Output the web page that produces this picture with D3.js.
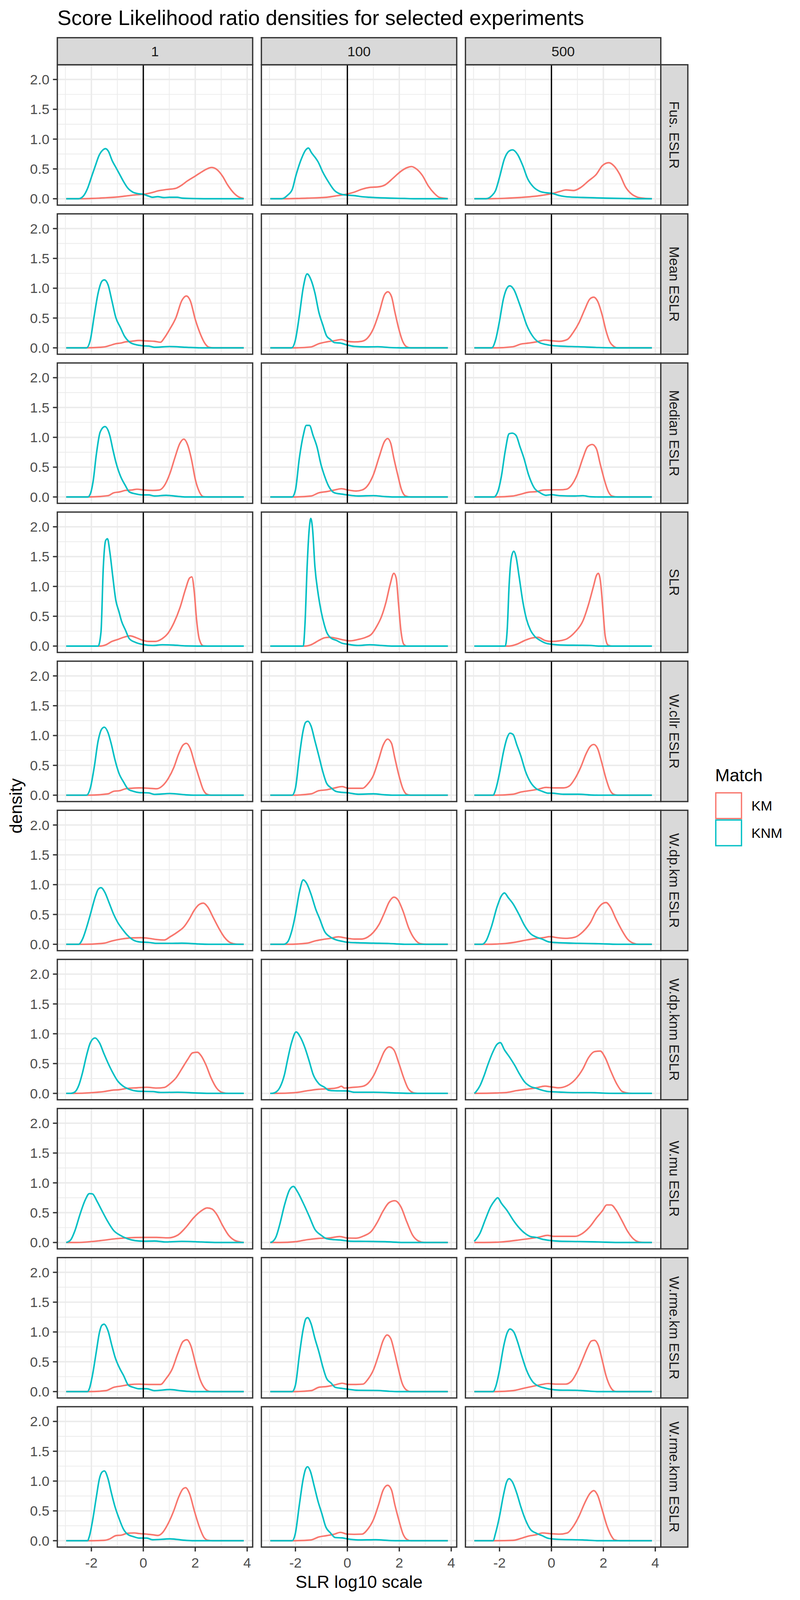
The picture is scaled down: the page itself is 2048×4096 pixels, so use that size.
<!DOCTYPE html>
<html><head><meta charset="utf-8">
<script src="https://cdn.jsdelivr.net/npm/d3@7"></script>
<style>body{margin:0;background:#fff}svg{display:block}</style>
</head><body>
<svg id="chart" width="2048" height="4096"></svg>
<script>
const colLabels = ["1", "100", "500"];
const rowLabels = ["Fus. ESLR", "Mean ESLR", "Median ESLR", "SLR", "W.cllr ESLR", "W.dp.km ESLR", "W.dp.knm ESLR", "W.mu ESLR", "W.rme.km ESLR", "W.rme.knm ESLR"];
const xTicks = [-2, 0, 2, 4];
const xMinorTicks = [-3, -1, 1, 3];
const yTicks = [0, 0.5, 1, 1.5, 2];
const yMinorTicks = [0.25, 0.75, 1.25, 1.75];
const seriesNames = ["KM", "KNM"];
const seriesColors = ["#F8766D", "#00BFC4"];

// density curves [x, density] for columns 1, 100, 500
const fusKM = [
 [[-2.97,0],[-2.45,0],[-2.0,0.005],[-1.5,0.015],[-1.0,0.03],[-0.6,0.05],[-0.3,0.065],[0,0.075],[0.3,0.1],[0.6,0.135],[0.9,0.155],[1.25,0.175],[1.45,0.22],[1.7,0.3],[2.0,0.38],[2.25,0.45],[2.45,0.5],[2.63,0.525],[2.8,0.5],[3.05,0.38],[3.25,0.23],[3.5,0.09],[3.7,0.025],[3.87,0.005]],
 [[-2.97,0],[-2.45,0],[-1.55,0.01],[-0.8,0.025],[-0.4,0.05],[0,0.08],[0.26,0.11],[0.56,0.16],[0.86,0.19],[1.2,0.2],[1.46,0.235],[1.76,0.345],[2.06,0.46],[2.29,0.52],[2.47,0.54],[2.66,0.5],[2.89,0.39],[3.11,0.22],[3.34,0.094],[3.56,0.02],[3.87,0.003]],
 [[-2.97,0],[-2.5,0],[-1.8,0.008],[-1.18,0.022],[-0.43,0.053],[0,0.085],[0.31,0.12],[0.56,0.148],[0.86,0.138],[1.13,0.19],[1.43,0.3],[1.73,0.41],[1.96,0.555],[2.21,0.605],[2.4,0.555],[2.63,0.41],[2.85,0.2],[3.07,0.085],[3.3,0.028],[3.52,0.01],[3.87,0]]
];
const fusKNM = [
 [[-2.97,0],[-2.5,0],[-2.3,0.05],[-2.15,0.17],[-2.0,0.36],[-1.85,0.55],[-1.7,0.73],[-1.55,0.82],[-1.46,0.84],[-1.35,0.8],[-1.2,0.64],[-1.05,0.52],[-0.9,0.4],[-0.75,0.28],[-0.6,0.18],[-0.4,0.11],[-0.2,0.085],[0,0.075],[0.2,0.045],[0.35,0.025],[0.55,0.035],[0.8,0.02],[1.0,0.025],[1.3,0.025],[1.5,0.01],[2.0,0.003],[2.5,0],[3.87,0]],
 [[-2.97,0],[-2.53,0],[-2.3,0.06],[-2.12,0.16],[-2.0,0.36],[-1.77,0.67],[-1.6,0.82],[-1.5,0.85],[-1.38,0.77],[-1.22,0.68],[-1.13,0.62],[-0.95,0.45],[-0.74,0.29],[-0.5,0.14],[-0.27,0.08],[0,0.06],[0.26,0.053],[0.56,0.034],[0.86,0.025],[1.46,0.013],[2.2,0.005],[2.6,0],[3.87,0]],
 [[-2.97,0],[-2.52,0],[-2.3,0.05],[-2.15,0.14],[-2.0,0.36],[-1.81,0.67],[-1.63,0.8],[-1.5,0.82],[-1.3,0.74],[-1.1,0.55],[-0.91,0.33],[-0.7,0.2],[-0.45,0.125],[-0.2,0.1],[0,0.092],[0.31,0.053],[0.61,0.032],[1.21,0.022],[2.1,0.01],[3.0,0.003],[3.4,0],[3.87,0]]
];
const meanKM = [
 [[-2.97,0],[-2.2,0],[-1.51,0.016],[-1.29,0.04],[-1.06,0.07],[-0.88,0.08],[-0.69,0.1],[-0.46,0.11],[-0.16,0.125],[0.13,0.116],[0.43,0.11],[0.66,0.094],[0.81,0.166],[1.03,0.32],[1.26,0.51],[1.48,0.79],[1.66,0.87],[1.81,0.79],[2.0,0.48],[2.2,0.23],[2.38,0.07],[2.53,0.01],[2.68,0],[3.87,0]],
 [[-2.97,0],[-2.1,0],[-1.4,0.016],[-1.1,0.07],[-0.8,0.1],[-0.5,0.12],[-0.23,0.14],[0,0.11],[0.26,0.1],[0.56,0.11],[0.78,0.166],[1.0,0.32],[1.23,0.6],[1.43,0.89],[1.56,0.94],[1.7,0.86],[1.83,0.6],[1.98,0.32],[2.14,0.1],[2.29,0.016],[2.44,0],[3.87,0]],
 [[-2.97,0],[-2.2,0],[-1.48,0.019],[-1.18,0.063],[-0.88,0.08],[-0.58,0.1],[-0.25,0.13],[0,0.12],[0.31,0.11],[0.61,0.14],[0.84,0.26],[1.06,0.42],[1.28,0.64],[1.48,0.82],[1.63,0.85],[1.78,0.78],[1.96,0.54],[2.1,0.29],[2.25,0.1],[2.4,0.025],[2.55,0],[3.87,0]]
];
const meanKNM = [
 [[-2.97,0],[-2.19,0],[-2.04,0.135],[-1.89,0.54],[-1.74,0.92],[-1.59,1.12],[-1.5,1.14],[-1.36,1.06],[-1.21,0.79],[-1.06,0.51],[-0.88,0.34],[-0.73,0.2],[-0.54,0.1],[-0.31,0.056],[0,0.034],[0.21,0.03],[0.43,0.01],[1.03,0.022],[1.63,0.01],[2.23,0],[3.87,0]],
 [[-2.97,0],[-2.15,0],[-2.0,0.135],[-1.85,0.54],[-1.7,1.01],[-1.55,1.24],[-1.4,1.14],[-1.25,0.92],[-1.1,0.6],[-0.95,0.39],[-0.8,0.2],[-0.65,0.14],[-0.5,0.088],[-0.27,0.08],[0,0.047],[0.26,0.025],[0.71,0.016],[1.16,0.019],[1.61,0.006],[2.2,0],[3.87,0]],
 [[-2.97,0],[-2.3,0],[-2.15,0.135],[-2.0,0.45],[-1.85,0.82],[-1.7,1.01],[-1.6,1.04],[-1.45,0.98],[-1.25,0.76],[-1.1,0.57],[-0.96,0.39],[-0.73,0.2],[-0.51,0.1],[-0.21,0.056],[0,0.04],[0.31,0.03],[1.06,0.019],[1.81,0.006],[2.55,0],[3.87,0]]
];
const medianKM = [
 [[-2.97,0],[-2.1,0],[-1.36,0.022],[-1.14,0.07],[-0.91,0.085],[-0.69,0.11],[-0.46,0.116],[-0.24,0.13],[0.06,0.116],[0.36,0.11],[0.61,0.116],[0.81,0.19],[1.03,0.4],[1.21,0.65],[1.41,0.9],[1.56,0.97],[1.71,0.87],[1.86,0.62],[2.0,0.3],[2.16,0.085],[2.31,0.006],[2.5,0],[3.87,0]],
 [[-2.97,0],[-2.1,0],[-1.4,0.016],[-1.1,0.07],[-0.8,0.09],[-0.5,0.116],[-0.23,0.138],[0.03,0.116],[0.33,0.1],[0.56,0.116],[0.78,0.19],[1.0,0.37],[1.23,0.68],[1.43,0.93],[1.55,0.98],[1.67,0.9],[1.79,0.65],[1.94,0.37],[2.09,0.116],[2.24,0.016],[2.44,0],[3.87,0]],
 [[-2.97,0],[-2.2,0],[-1.48,0.016],[-1.18,0.047],[-0.88,0.08],[-0.58,0.09],[-0.31,0.116],[0,0.12],[0.31,0.12],[0.58,0.13],[0.76,0.19],[0.99,0.37],[1.21,0.65],[1.39,0.84],[1.57,0.88],[1.73,0.81],[1.88,0.55],[2.03,0.3],[2.18,0.1],[2.33,0.016],[2.55,0],[3.87,0]]
];
const medianKNM = [
 [[-2.97,0],[-2.14,0],[-2.04,0.053],[-1.93,0.27],[-1.81,0.71],[-1.66,1.09],[-1.48,1.18],[-1.29,1.03],[-1.18,0.81],[-1.06,0.59],[-0.88,0.35],[-0.69,0.19],[-0.54,0.085],[-0.31,0.053],[0,0.034],[0.21,0.034],[0.43,0.016],[0.88,0.028],[1.33,0.01],[1.63,0],[3.87,0]],
 [[-2.97,0],[-2.13,0],[-2.0,0.116],[-1.85,0.65],[-1.7,1.03],[-1.58,1.2],[-1.46,1.2],[-1.32,1.03],[-1.17,0.84],[-1.02,0.55],[-0.87,0.34],[-0.72,0.18],[-0.5,0.07],[-0.2,0.047],[0,0.034],[0.41,0.016],[1.0,0.022],[1.46,0.006],[1.76,0],[3.87,0]],
 [[-2.97,0],[-2.22,0],[-2.07,0.085],[-1.93,0.34],[-1.78,0.77],[-1.63,1.06],[-1.51,1.07],[-1.36,1.03],[-1.21,0.84],[-1.06,0.65],[-0.88,0.37],[-0.66,0.15],[-0.43,0.07],[-0.21,0.028],[0,0.038],[0.31,0.022],[0.91,0.016],[1.21,0.022],[1.51,0.003],[1.81,0],[3.87,0]]
];
const slrKM = [
 [[-2.97,0],[-1.66,0],[-1.44,0.022],[-1.21,0.078],[-0.99,0.11],[-0.76,0.147],[-0.51,0.172],[-0.3,0.145],[-0.01,0.094],[0.21,0.078],[0.46,0.078],[0.73,0.125],[0.96,0.22],[1.18,0.39],[1.41,0.64],[1.63,0.96],[1.78,1.14],[1.87,1.16],[1.96,0.92],[2.05,0.45],[2.16,0.11],[2.31,0.003],[2.46,0],[3.87,0]],
 [[-2.97,0],[-1.63,0],[-1.4,0.022],[-1.1,0.094],[-0.87,0.14],[-0.68,0.147],[-0.42,0.13],[-0.12,0.1],[0.11,0.088],[0.41,0.11],[0.71,0.147],[0.93,0.2],[1.13,0.33],[1.31,0.49],[1.49,0.74],[1.64,1.02],[1.79,1.22],[1.88,1.14],[1.97,0.71],[2.06,0.27],[2.17,0.031],[2.29,0],[3.87,0]],
 [[-2.97,0],[-1.63,0],[-1.33,0.031],[-1.03,0.094],[-0.76,0.135],[-0.51,0.147],[-0.25,0.094],[0,0.078],[0.31,0.088],[0.61,0.125],[0.91,0.235],[1.21,0.42],[1.43,0.7],[1.63,1.02],[1.73,1.18],[1.81,1.22],[1.88,1.11],[1.99,0.58],[2.07,0.17],[2.18,0.016],[2.33,0],[3.87,0]]
];
const slrKNM = [
 [[-2.97,0],[-1.74,0],[-1.63,0.235],[-1.54,1.33],[-1.45,1.77],[-1.38,1.8],[-1.29,1.58],[-1.18,1.18],[-1.06,0.77],[-0.94,0.58],[-0.84,0.42],[-0.69,0.27],[-0.54,0.125],[-0.31,0.063],[0,0.025],[0.36,0.01],[0.73,0.022],[1.18,0.016],[1.63,0.003],[2.08,0],[3.87,0]],
 [[-2.97,0],[-1.7,0],[-1.63,0.39],[-1.55,1.33],[-1.47,1.96],[-1.41,2.14],[-1.34,1.96],[-1.25,1.33],[-1.13,0.89],[-1.01,0.58],[-0.89,0.36],[-0.8,0.235],[-0.65,0.14],[-0.42,0.094],[-0.2,0.047],[0,0.031],[0.41,0.01],[0.86,0.022],[1.31,0.01],[1.76,0],[3.87,0]],
 [[-2.97,0],[-1.78,0],[-1.7,0.3],[-1.63,1.02],[-1.54,1.49],[-1.45,1.59],[-1.36,1.49],[-1.25,1.18],[-1.1,0.74],[-0.96,0.45],[-0.81,0.27],[-0.63,0.157],[-0.43,0.094],[-0.21,0.047],[0,0.031],[0.46,0.016],[1.06,0.013],[1.51,0.01],[1.81,0],[3.87,0]]
];
const cllrKM = [
 [[-2.97,0],[-2.1,0],[-1.36,0.022],[-1.14,0.066],[-0.91,0.075],[-0.69,0.107],[-0.46,0.116],[-0.16,0.122],[0.21,0.116],[0.51,0.107],[0.73,0.154],[0.96,0.28],[1.18,0.47],[1.36,0.69],[1.53,0.84],[1.66,0.87],[1.81,0.78],[1.96,0.56],[2.16,0.28],[2.31,0.09],[2.46,0.013],[2.61,0],[3.87,0]],
 [[-2.97,0],[-2.1,0],[-1.4,0.022],[-1.1,0.075],[-0.8,0.09],[-0.5,0.12],[-0.2,0.144],[0.03,0.116],[0.33,0.116],[0.59,0.116],[0.78,0.185],[1.0,0.33],[1.2,0.59],[1.38,0.84],[1.55,0.94],[1.7,0.87],[1.83,0.62],[1.98,0.34],[2.14,0.107],[2.29,0.013],[2.44,0],[3.87,0]],
 [[-2.97,0],[-2.2,0],[-1.48,0.016],[-1.18,0.053],[-0.85,0.075],[-0.51,0.1],[-0.21,0.13],[0.09,0.122],[0.46,0.122],[0.69,0.154],[0.91,0.28],[1.13,0.47],[1.33,0.69],[1.48,0.81],[1.63,0.85],[1.78,0.78],[1.93,0.56],[2.1,0.28],[2.25,0.09],[2.4,0.013],[2.55,0],[3.87,0]]
];
const cllrKNM = [
 [[-2.97,0],[-2.19,0],[-2.04,0.12],[-1.89,0.47],[-1.74,0.91],[-1.6,1.11],[-1.5,1.14],[-1.36,1.05],[-1.24,0.87],[-1.09,0.59],[-0.94,0.37],[-0.76,0.22],[-0.58,0.1],[-0.39,0.066],[-0.16,0.044],[0.21,0.038],[0.43,0.013],[1.03,0.028],[1.63,0.006],[1.93,0],[3.87,0]],
 [[-2.97,0],[-2.13,0],[-2.0,0.12],[-1.85,0.65],[-1.7,1.09],[-1.61,1.22],[-1.52,1.24],[-1.4,1.16],[-1.25,0.91],[-1.1,0.66],[-0.95,0.4],[-0.8,0.2],[-0.62,0.12],[-0.42,0.06],[-0.2,0.047],[0,0.041],[0.41,0.016],[1.0,0.022],[1.46,0.006],[1.76,0],[3.87,0]],
 [[-2.97,0],[-2.25,0],[-2.15,0.09],[-2.0,0.37],[-1.85,0.72],[-1.7,0.97],[-1.6,1.04],[-1.48,1.02],[-1.33,0.84],[-1.18,0.66],[-1.0,0.4],[-0.81,0.22],[-0.58,0.107],[-0.36,0.066],[-0.13,0.034],[0,0.034],[0.46,0.016],[1.06,0.016],[1.51,0.003],[1.81,0],[3.87,0]]
];
const dpkmKM = [
 [[-2.97,0],[-2.3,0],[-1.51,0.019],[-1.21,0.056],[-0.84,0.088],[-0.46,0.107],[-0.09,0.11],[0.21,0.1],[0.51,0.08],[0.81,0.072],[1.03,0.125],[1.3,0.2],[1.56,0.29],[1.78,0.43],[1.96,0.57],[2.16,0.67],[2.31,0.69],[2.49,0.62],[2.68,0.46],[2.9,0.276],[3.12,0.12],[3.36,0.025],[3.58,0.003],[3.87,0]],
 [[-2.97,0],[-2.3,0],[-1.55,0.019],[-1.25,0.056],[-0.95,0.08],[-0.65,0.1],[-0.35,0.125],[0,0.1],[0.26,0.088],[0.56,0.088],[0.78,0.12],[1.0,0.2],[1.23,0.34],[1.43,0.53],[1.61,0.71],[1.79,0.79],[1.94,0.75],[2.14,0.56],[2.36,0.276],[2.59,0.088],[2.81,0.01],[3.04,0],[3.87,0]],
 [[-2.97,0],[-2.5,0],[-1.78,0.013],[-1.33,0.04],[-0.96,0.072],[-0.58,0.097],[-0.28,0.113],[-0.06,0.128],[0.24,0.11],[0.61,0.1],[0.91,0.12],[1.21,0.21],[1.51,0.37],[1.73,0.56],[1.96,0.68],[2.1,0.7],[2.28,0.62],[2.48,0.43],[2.7,0.245],[2.93,0.088],[3.15,0.019],[3.37,0],[3.87,0]]
];
const dpkmKNM = [
 [[-2.97,0],[-2.49,0],[-2.34,0.088],[-2.19,0.276],[-2.04,0.5],[-1.84,0.81],[-1.74,0.92],[-1.63,0.95],[-1.48,0.87],[-1.33,0.71],[-1.14,0.5],[-0.99,0.37],[-0.79,0.245],[-0.61,0.15],[-0.39,0.072],[-0.16,0.04],[0.21,0.031],[0.51,0.016],[1.03,0.016],[1.48,0.019],[2.08,0.006],[2.53,0],[3.87,0]],
 [[-2.97,0],[-2.45,0],[-2.3,0.04],[-2.15,0.21],[-2.0,0.5],[-1.85,0.87],[-1.7,1.08],[-1.58,1.03],[-1.4,0.84],[-1.22,0.59],[-1.07,0.43],[-0.87,0.21],[-0.65,0.12],[-0.42,0.072],[-0.2,0.05],[0,0.034],[0.41,0.025],[1.0,0.019],[1.61,0.013],[2.2,0],[3.87,0]],
 [[-2.97,0],[-2.67,0],[-2.52,0.056],[-2.3,0.31],[-2.1,0.62],[-1.93,0.81],[-1.81,0.86],[-1.66,0.78],[-1.48,0.68],[-1.25,0.5],[-1.03,0.31],[-0.81,0.18],[-0.58,0.12],[-0.36,0.088],[-0.1,0.04],[0.31,0.025],[1.06,0.016],[1.81,0.01],[2.55,0],[3.87,0]]
];
const dpknmKM = [
 [[-2.97,0],[-2.7,0],[-1.96,0.013],[-1.51,0.031],[-1.21,0.053],[-0.91,0.063],[-0.61,0.085],[-0.24,0.094],[0.13,0.103],[0.51,0.09],[0.81,0.1],[1.03,0.163],[1.26,0.26],[1.48,0.41],[1.71,0.57],[1.9,0.68],[2.08,0.69],[2.23,0.63],[2.41,0.48],[2.61,0.26],[2.83,0.085],[3.06,0.013],[3.28,0],[3.87,0]],
 [[-2.97,0],[-2.8,0],[-2.0,0.013],[-1.55,0.044],[-1.1,0.069],[-0.57,0.082],[-0.35,0.1],[-0.23,0.12],[-0.12,0.09],[0.18,0.1],[0.56,0.116],[0.78,0.163],[1.0,0.29],[1.23,0.51],[1.43,0.71],[1.61,0.78],[1.79,0.73],[1.98,0.51],[2.17,0.26],[2.36,0.069],[2.59,0.006],[2.81,0],[3.87,0]],
 [[-2.97,0],[-2.9,0],[-1.78,0.013],[-1.33,0.047],[-0.96,0.069],[-0.58,0.094],[-0.25,0.122],[0.01,0.107],[0.28,0.094],[0.61,0.13],[0.91,0.23],[1.21,0.41],[1.43,0.6],[1.66,0.7],[1.88,0.71],[2.07,0.6],[2.28,0.38],[2.51,0.163],[2.73,0.031],[3.0,0.003],[3.22,0],[3.87,0]]
];
const dpknmKNM = [
 [[-2.97,0],[-2.79,0],[-2.64,0.022],[-2.49,0.13],[-2.34,0.35],[-2.19,0.63],[-2.04,0.85],[-1.86,0.93],[-1.69,0.85],[-1.51,0.66],[-1.36,0.51],[-1.18,0.35],[-0.99,0.21],[-0.76,0.116],[-0.54,0.069],[-0.24,0.038],[0,0.034],[0.36,0.031],[0.66,0.016],[1.33,0.019],[1.93,0.009],[2.53,0],[3.87,0]],
 [[-2.97,0],[-2.9,0],[-2.75,0.022],[-2.6,0.1],[-2.42,0.32],[-2.3,0.57],[-2.15,0.85],[-1.97,1.03],[-1.82,0.95],[-1.63,0.76],[-1.47,0.54],[-1.32,0.32],[-1.1,0.163],[-0.87,0.1],[-0.72,0.053],[-0.5,0.044],[0,0.041],[0.26,0.019],[1.0,0.019],[1.76,0.009],[2.5,0],[3.87,0]],
 [[-2.97,0],[-2.9,0.03],[-2.75,0.13],[-2.6,0.29],[-2.45,0.48],[-2.25,0.7],[-2.1,0.82],[-1.97,0.85],[-1.81,0.73],[-1.6,0.6],[-1.4,0.46],[-1.25,0.34],[-1.03,0.19],[-0.81,0.116],[-0.58,0.085],[-0.36,0.053],[-0.13,0.031],[0.31,0.022],[0.91,0.013],[1.51,0.013],[2.1,0.003],[2.55,0],[3.87,0]]
];
const muKM = [
 [[-2.97,0],[-2.6,0],[-2.26,0.006],[-1.66,0.031],[-1.06,0.063],[-0.61,0.078],[-0.01,0.085],[0.51,0.085],[0.96,0.078],[1.33,0.125],[1.63,0.25],[1.93,0.41],[2.23,0.53],[2.46,0.58],[2.65,0.56],[2.83,0.47],[3.06,0.28],[3.28,0.125],[3.51,0.038],[3.73,0.009],[3.87,0]],
 [[-2.97,0],[-2.6,0],[-2.0,0.013],[-1.55,0.047],[-1.1,0.069],[-0.65,0.078],[-0.3,0.1],[0,0.075],[0.33,0.072],[0.63,0.11],[0.93,0.19],[1.16,0.345],[1.38,0.53],[1.61,0.67],[1.83,0.7],[2.06,0.6],[2.29,0.345],[2.51,0.125],[2.74,0.025],[2.97,0],[3.87,0]],
 [[-2.97,0],[-2.6,0],[-1.93,0.009],[-1.33,0.038],[-0.88,0.063],[-0.43,0.094],[-0.16,0.12],[0.09,0.103],[0.46,0.103],[0.91,0.103],[1.21,0.157],[1.51,0.28],[1.73,0.41],[1.96,0.53],[2.13,0.63],[2.3,0.63],[2.48,0.55],[2.7,0.38],[2.93,0.19],[3.15,0.063],[3.37,0.009],[3.6,0],[3.87,0]]
];
const muKNM = [
 [[-2.97,0],[-2.9,0.01],[-2.79,0.047],[-2.64,0.19],[-2.44,0.47],[-2.23,0.72],[-2.08,0.82],[-1.96,0.815],[-1.78,0.69],[-1.59,0.53],[-1.36,0.345],[-1.14,0.2],[-0.91,0.125],[-0.61,0.063],[-0.31,0.031],[0,0.022],[0.43,0.025],[0.88,0.009],[1.48,0.019],[2.23,0.009],[2.83,0],[3.87,0]],
 [[-2.97,0],[-2.9,0.01],[-2.75,0.094],[-2.6,0.31],[-2.42,0.63],[-2.23,0.88],[-2.08,0.94],[-1.92,0.85],[-1.7,0.66],[-1.47,0.44],[-1.25,0.22],[-1.02,0.125],[-0.8,0.063],[-0.5,0.047],[-0.2,0.038],[0.11,0.022],[0.71,0.019],[1.46,0.013],[2.2,0],[3.87,0]],
 [[-2.97,0.02],[-2.75,0.157],[-2.55,0.38],[-2.34,0.6],[-2.19,0.7],[-2.07,0.75],[-1.93,0.66],[-1.7,0.53],[-1.48,0.38],[-1.25,0.25],[-1.03,0.157],[-0.81,0.1],[-0.58,0.085],[-0.36,0.056],[-0.13,0.038],[0.31,0.022],[1.06,0.016],[1.81,0.009],[2.55,0],[3.87,0]]
];
const rmekmKM = [
 [[-2.97,0],[-2.1,0],[-1.44,0.016],[-1.14,0.072],[-0.84,0.094],[-0.54,0.116],[-0.16,0.125],[0.21,0.12],[0.66,0.12],[0.88,0.22],[1.11,0.376],[1.33,0.64],[1.53,0.84],[1.68,0.87],[1.83,0.77],[2.0,0.49],[2.19,0.2],[2.38,0.047],[2.53,0.006],[2.68,0],[3.87,0]],
 [[-2.97,0],[-2.1,0],[-1.4,0.016],[-1.1,0.072],[-0.8,0.085],[-0.5,0.11],[-0.2,0.14],[0.03,0.12],[0.33,0.12],[0.6,0.125],[0.78,0.2],[1.0,0.36],[1.2,0.61],[1.38,0.86],[1.53,0.95],[1.67,0.89],[1.81,0.67],[1.96,0.39],[2.11,0.14],[2.29,0.022],[2.44,0],[3.87,0]],
 [[-2.97,0],[-2.2,0],[-1.48,0.016],[-1.03,0.06],[-0.66,0.094],[-0.36,0.12],[-0.13,0.135],[0.16,0.125],[0.54,0.125],[0.76,0.17],[0.99,0.33],[1.21,0.55],[1.39,0.74],[1.54,0.85],[1.66,0.86],[1.81,0.77],[1.96,0.52],[2.1,0.27],[2.28,0.072],[2.43,0.006],[2.55,0],[3.87,0]]
];
const rmekmKNM = [
 [[-2.97,0],[-2.15,0],[-2.08,0.047],[-1.96,0.27],[-1.81,0.67],[-1.69,0.99],[-1.6,1.11],[-1.51,1.13],[-1.36,1.02],[-1.21,0.77],[-1.09,0.58],[-0.91,0.39],[-0.76,0.27],[-0.58,0.11],[-0.39,0.072],[-0.16,0.047],[0.13,0.047],[0.43,0.016],[1.03,0.034],[1.48,0.013],[1.93,0],[3.87,0]],
 [[-2.97,0],[-2.13,0],[-2.0,0.11],[-1.85,0.61],[-1.7,1.05],[-1.6,1.22],[-1.53,1.24],[-1.4,1.14],[-1.25,0.89],[-1.1,0.67],[-0.95,0.42],[-0.8,0.22],[-0.62,0.14],[-0.47,0.072],[-0.2,0.053],[0,0.041],[0.41,0.022],[1.16,0.019],[1.61,0.006],[1.91,0],[3.87,0]],
 [[-2.97,0],[-2.25,0],[-2.15,0.078],[-2.0,0.36],[-1.85,0.74],[-1.7,0.99],[-1.6,1.05],[-1.45,1.0],[-1.3,0.83],[-1.15,0.61],[-0.96,0.36],[-0.73,0.17],[-0.51,0.094],[-0.28,0.063],[-0.06,0.041],[0.31,0.025],[0.91,0.022],[1.21,0.016],[1.81,0],[3.87,0]]
];
const rmeknmKM = [
 [[-2.97,0],[-2.15,0],[-1.51,0.006],[-1.29,0.031],[-1.06,0.085],[-0.84,0.094],[-0.61,0.125],[-0.35,0.13],[-0.16,0.12],[0.13,0.11],[0.36,0.1],[0.56,0.088],[0.73,0.13],[0.96,0.29],[1.18,0.51],[1.36,0.73],[1.53,0.87],[1.63,0.89],[1.78,0.79],[1.96,0.51],[2.16,0.23],[2.34,0.053],[2.5,0.006],[2.68,0],[3.87,0]],
 [[-2.97,0],[-2.1,0],[-1.4,0.013],[-1.1,0.063],[-0.8,0.085],[-0.5,0.11],[-0.27,0.14],[0,0.11],[0.26,0.107],[0.56,0.11],[0.78,0.19],[1.0,0.35],[1.2,0.6],[1.38,0.85],[1.55,0.93],[1.7,0.85],[1.83,0.6],[1.98,0.35],[2.14,0.116],[2.29,0.022],[2.44,0],[3.87,0]],
 [[-2.97,0],[-2.2,0],[-1.48,0.006],[-1.18,0.038],[-0.88,0.078],[-0.58,0.1],[-0.35,0.13],[0.01,0.116],[0.31,0.11],[0.61,0.13],[0.84,0.24],[1.06,0.41],[1.28,0.63],[1.48,0.79],[1.63,0.84],[1.78,0.76],[1.96,0.51],[2.13,0.26],[2.3,0.085],[2.43,0.013],[2.63,0],[3.87,0]]
];
const rmeknmKNM = [
 [[-2.97,0],[-2.15,0],[-2.08,0.07],[-1.96,0.32],[-1.81,0.73],[-1.69,1.04],[-1.59,1.15],[-1.5,1.17],[-1.36,1.04],[-1.24,0.82],[-1.09,0.57],[-0.94,0.38],[-0.76,0.19],[-0.58,0.1],[-0.39,0.07],[-0.16,0.044],[0.13,0.044],[0.36,0.016],[1.03,0.031],[1.63,0.006],[1.93,0],[3.87,0]],
 [[-2.97,0],[-2.13,0],[-2.0,0.13],[-1.85,0.6],[-1.7,1.04],[-1.61,1.2],[-1.53,1.24],[-1.43,1.17],[-1.28,0.92],[-1.13,0.66],[-0.98,0.45],[-0.83,0.23],[-0.65,0.13],[-0.47,0.053],[-0.2,0.047],[0,0.031],[0.41,0.013],[1.09,0.016],[1.61,0.003],[1.91,0],[3.87,0]],
 [[-2.97,0],[-2.25,0],[-2.15,0.13],[-2.0,0.41],[-1.85,0.76],[-1.73,0.98],[-1.63,1.04],[-1.51,0.99],[-1.33,0.79],[-1.18,0.57],[-1.0,0.35],[-0.81,0.19],[-0.58,0.125],[-0.36,0.085],[-0.1,0.038],[0.31,0.022],[1.21,0.013],[1.81,0],[3.87,0]]
];

const kmRows = [fusKM, meanKM, medianKM, slrKM, cllrKM, dpkmKM, dpknmKM, muKM, rmekmKM, rmeknmKM];
const knmRows = [fusKNM, meanKNM, medianKNM, slrKNM, cllrKNM, dpkmKNM, dpknmKNM, muKNM, rmekmKNM, rmeknmKNM];

// ---------- layout (reference pixels, scaled by S) ----------
const S = 0.975;
const FONT = "'Liberation Sans', Arial, Helvetica, sans-serif";
const L = { left: 150.5, top: 170, pw: 512.9, ph: 368.6, gx: 22.9, gy: 22.9, strip: 71 };
const nRows = rowLabels.length, nCols = colLabels.length;
const panelsRight = L.left + nCols * L.pw + (nCols - 1) * L.gx;
const panelsBottom = L.top + nRows * L.ph + (nRows - 1) * L.gy;

const allPts = [];
kmRows.concat(knmRows).forEach(r => r.forEach(c => c.forEach(p => allPts.push(p))));
const xExt = d3.extent(allPts, p => p[0]);
const yMax = d3.max(allPts, p => p[1]);
const xPad = 0.05 * (xExt[1] - xExt[0]);
const x = d3.scaleLinear().domain([xExt[0] - xPad, xExt[1] + xPad]).range([0, L.pw]);
const y = d3.scaleLinear().domain([-0.05 * yMax, 1.05 * yMax]).range([L.ph, 0]);

const svg = d3.select("#chart");
svg.append("rect").attr("width", 2048).attr("height", 4096).attr("fill", "#fff");
const root = svg.append("g").attr("transform", `scale(${S})`);

const line = d3.line().x(d => x(d[0])).y(d => y(d[1])).curve(d3.curveMonotoneX);

const GRID = "#EBEBEB", DARK = "#333333";
const LW = 3.4;

for (let r = 0; r < nRows; r++) {
  for (let c = 0; c < nCols; c++) {
    const px = L.left + c * (L.pw + L.gx);
    const py = L.top + r * (L.ph + L.gy);
    const g = root.append("g").attr("transform", `translate(${px},${py})`);
    g.append("rect").attr("width", L.pw).attr("height", L.ph).attr("fill", "#fff");
    g.selectAll(null).data(xMinorTicks).enter().append("line")
      .attr("x1", d => x(d)).attr("x2", d => x(d)).attr("y1", 0).attr("y2", L.ph)
      .attr("stroke", GRID).attr("stroke-width", 2.0);
    g.selectAll(null).data(yMinorTicks).enter().append("line")
      .attr("y1", d => y(d)).attr("y2", d => y(d)).attr("x1", 0).attr("x2", L.pw)
      .attr("stroke", GRID).attr("stroke-width", 2.0);
    g.selectAll(null).data(xTicks).enter().append("line")
      .attr("x1", d => x(d)).attr("x2", d => x(d)).attr("y1", 0).attr("y2", L.ph)
      .attr("stroke", GRID).attr("stroke-width", 3.8);
    g.selectAll(null).data(yTicks).enter().append("line")
      .attr("y1", d => y(d)).attr("y2", d => y(d)).attr("x1", 0).attr("x2", L.pw)
      .attr("stroke", GRID).attr("stroke-width", 3.8);
    [kmRows[r][c], knmRows[r][c]].forEach((pts, i) => {
      g.append("path").attr("d", line(pts)).attr("fill", "none")
        .attr("stroke", seriesColors[i]).attr("stroke-width", 4.0)
        .attr("stroke-linejoin", "round").attr("stroke-linecap", "butt");
    });
    g.append("line").attr("x1", x(0)).attr("x2", x(0)).attr("y1", 0).attr("y2", L.ph)
      .attr("stroke", "#000").attr("stroke-width", LW);
    g.append("rect").attr("width", L.pw).attr("height", L.ph).attr("fill", "none")
      .attr("stroke", DARK).attr("stroke-width", LW);

    if (c === 0) {
      g.selectAll(null).data(yTicks).enter().append("line")
        .attr("x1", -11.5).attr("x2", 0).attr("y1", d => y(d)).attr("y2", d => y(d))
        .attr("stroke", DARK).attr("stroke-width", LW);
      g.selectAll(null).data(yTicks).enter().append("text")
        .attr("x", -20.7).attr("y", d => y(d)).attr("dy", "0.35em")
        .attr("text-anchor", "end").attr("font-family", FONT).attr("font-size", 36.7)
        .attr("fill", "#4D4D4D").text(d => d3.format(".1f")(d));
    }
    if (r === nRows - 1) {
      g.selectAll(null).data(xTicks).enter().append("line")
        .attr("x1", d => x(d)).attr("x2", d => x(d)).attr("y1", L.ph).attr("y2", L.ph + 11.5)
        .attr("stroke", DARK).attr("stroke-width", LW);
      g.selectAll(null).data(xTicks).enter().append("text")
        .attr("x", d => x(d)).attr("y", L.ph + 54)
        .attr("text-anchor", "middle").attr("font-family", FONT).attr("font-size", 36.7)
        .attr("fill", "#4D4D4D").text(d => d);
    }
  }
}

colLabels.forEach((lab, c) => {
  const px = L.left + c * (L.pw + L.gx);
  root.append("rect").attr("x", px).attr("y", L.top - L.strip).attr("width", L.pw).attr("height", L.strip)
    .attr("fill", "#D9D9D9").attr("stroke", DARK).attr("stroke-width", LW);
  root.append("text").attr("x", px + L.pw / 2).attr("y", L.top - L.strip / 2).attr("dy", "0.35em")
    .attr("text-anchor", "middle").attr("font-family", FONT).attr("font-size", 36.7)
    .attr("fill", "#1A1A1A").text(lab);
});
rowLabels.forEach((lab, r) => {
  const py = L.top + r * (L.ph + L.gy);
  root.append("rect").attr("x", panelsRight).attr("y", py).attr("width", L.strip).attr("height", L.ph)
    .attr("fill", "#D9D9D9").attr("stroke", DARK).attr("stroke-width", LW);
  root.append("text")
    .attr("transform", `translate(${panelsRight + L.strip / 2},${py + L.ph / 2}) rotate(90)`)
    .attr("dy", "0.35em").attr("text-anchor", "middle").attr("font-family", FONT).attr("font-size", 36.7)
    .attr("fill", "#1A1A1A").text(lab);
});

root.append("text").attr("x", L.left).attr("y", 66)
  .attr("font-family", FONT).attr("font-size", 55.3).attr("fill", "#000")
  .text("Score Likelihood ratio densities for selected experiments");

root.append("text").attr("x", (L.left + panelsRight) / 2).attr("y", 4169)
  .attr("text-anchor", "middle").attr("font-family", FONT).attr("font-size", 45.8).attr("fill", "#000")
  .text("SLR log10 scale");
root.append("text").attr("transform", `translate(57.5,${(L.top + panelsBottom) / 2}) rotate(-90)`)
  .attr("text-anchor", "middle").attr("font-family", FONT).attr("font-size", 45.8).attr("fill", "#000")
  .text("density");

const lg = root.append("g").attr("transform", "translate(1877.7,0)");
lg.append("text").attr("x", 0).attr("y", 2051).attr("font-family", FONT).attr("font-size", 45.8)
  .attr("fill", "#000").text("Match");
seriesNames.forEach((nm, i) => {
  const ky = 2080 + i * 71.3;
  lg.append("rect").attr("x", 1.7).attr("y", ky + 1.7).attr("width", 67.5).attr("height", 67.5)
    .attr("fill", "none").attr("stroke", seriesColors[i]).attr("stroke-width", 3.4);
  lg.append("text").attr("x", 95).attr("y", ky + 35.6).attr("dy", "0.35em")
    .attr("font-family", FONT).attr("font-size", 36.7).attr("fill", "#000").text(nm);
});
</script>
</body></html>
